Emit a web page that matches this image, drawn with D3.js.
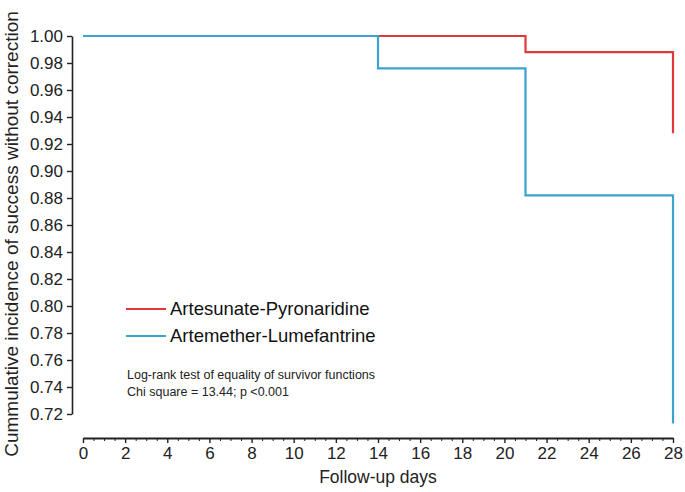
<!DOCTYPE html>
<html>
<head>
<meta charset="utf-8">
<script src="https://cdn.jsdelivr.net/npm/d3@7"></script>
<style>
  body { margin: 0; background: #fff; }
  svg { font-family: "Liberation Sans", Arial, sans-serif; }
  .axis text { font-size: 17px; fill: #222; }
  .axis path, .axis line { stroke: #222; }
</style>
</head>
<body>
<div id="graphicContainer"></div>
<script>
// Kaplan-Meier style steps
var days = [0, 14, 21, 28],
	artesunate = [1.00, 1.00, 0.988, 0.928],
	artemether = [1.00, 0.976, 0.882, 0.713];

var seriesNames = ["Artesunate-Pyronaridine", "Artemether-Lumefantrine"],
	seriesColors = ["#e0383c", "#3ba3cf"];

var yTicks = d3.range(0.72, 1.0001, 0.02),
	xTicks = d3.range(0, 28.001, 2),
	xMinor = d3.range(0, 28.001, 0.5).filter(function(d){ return d % 2 != 0 });

var width = 685,
	height = 492;

var svg = d3.select("#graphicContainer")
			.append("svg")
			.attr("width", width)
			.attr("height", height);

var x = d3.scaleLinear().domain([0, 28]).range([83, 673]),
	y = d3.scaleLinear().domain([0.72, 1.00]).range([414, 36]);

// y axis
var yAxis = svg.append("g")
	.attr("class", "axis")
	.attr("transform", "translate(72,0)")
	.call(d3.axisLeft(y).tickValues(yTicks).tickFormat(d3.format(".2f")).tickSize(5).tickSizeOuter(0).tickPadding(4));
yAxis.select(".domain").attr("stroke-width", 1.6);
yAxis.selectAll(".tick line").attr("stroke-width", 1.4);

// x axis, major + minor ticks
var xAxis = svg.append("g")
	.attr("class", "axis")
	.attr("transform", "translate(0,438)")
	.call(d3.axisBottom(x).tickValues(xTicks).tickSize(5).tickSizeOuter(0).tickPadding(4));
xAxis.select(".domain").attr("stroke-width", 2);
xAxis.selectAll(".tick line").attr("stroke-width", 1.4);

svg.append("g")
	.attr("class", "axis")
	.attr("transform", "translate(0,438)")
	.call(d3.axisBottom(x).tickValues(xMinor).tickSize(3).tickFormat(""))
	.call(function(g){ g.select(".domain").remove() })
	.selectAll("line").attr("stroke-width", 1);

// axis titles
svg.append("text")
	.attr("transform", "translate(18,234) rotate(-90)")
	.attr("text-anchor", "middle")
	.attr("font-size", "19px")
	.attr("fill", "#222")
	.text("Cummulative incidence of success without correction");

svg.append("text")
	.attr("x", 378)
	.attr("y", 483)
	.attr("text-anchor", "middle")
	.attr("font-size", "17.5px")
	.attr("fill", "#222")
	.text("Follow-up days");

// step lines
var line = d3.line()
	.x(function(d){ return x(d[0]) })
	.y(function(d){ return y(d[1]) })
	.curve(d3.curveStepAfter);

var series = [artesunate, artemether];
series.forEach(function(vals, i){
	svg.append("path")
		.datum(days.map(function(d, j){ return [d, vals[j]] }))
		.attr("fill", "none")
		.attr("stroke", seriesColors[i])
		.attr("stroke-width", 2.2)
		.attr("d", line);
});

// legend
var legend = svg.selectAll(".legendItem")
	.data(seriesNames)
	.enter().append("g")
	.attr("class", "legendItem")
	.attr("transform", function(d, i){ return "translate(126," + (309 + i * 27) + ")" });

legend.append("line")
	.attr("x1", 0).attr("x2", 40)
	.attr("stroke", function(d, i){ return seriesColors[i] })
	.attr("stroke-width", 2.2);

legend.append("text")
	.attr("x", 44)
	.attr("y", 0)
	.attr("dy", "0.35em")
	.attr("font-size", "18.5px")
	.attr("fill", "#111")
	.text(function(d){ return d });

// test note
svg.append("text")
	.attr("x", 127).attr("y", 379)
	.attr("font-size", "12.5px").attr("fill", "#222")
	.text("Log-rank test of equality of survivor functions");
svg.append("text")
	.attr("x", 127).attr("y", 396)
	.attr("font-size", "12.5px").attr("fill", "#222")
	.text("Chi square = 13.44; p <0.001");
</script>
</body>
</html>
